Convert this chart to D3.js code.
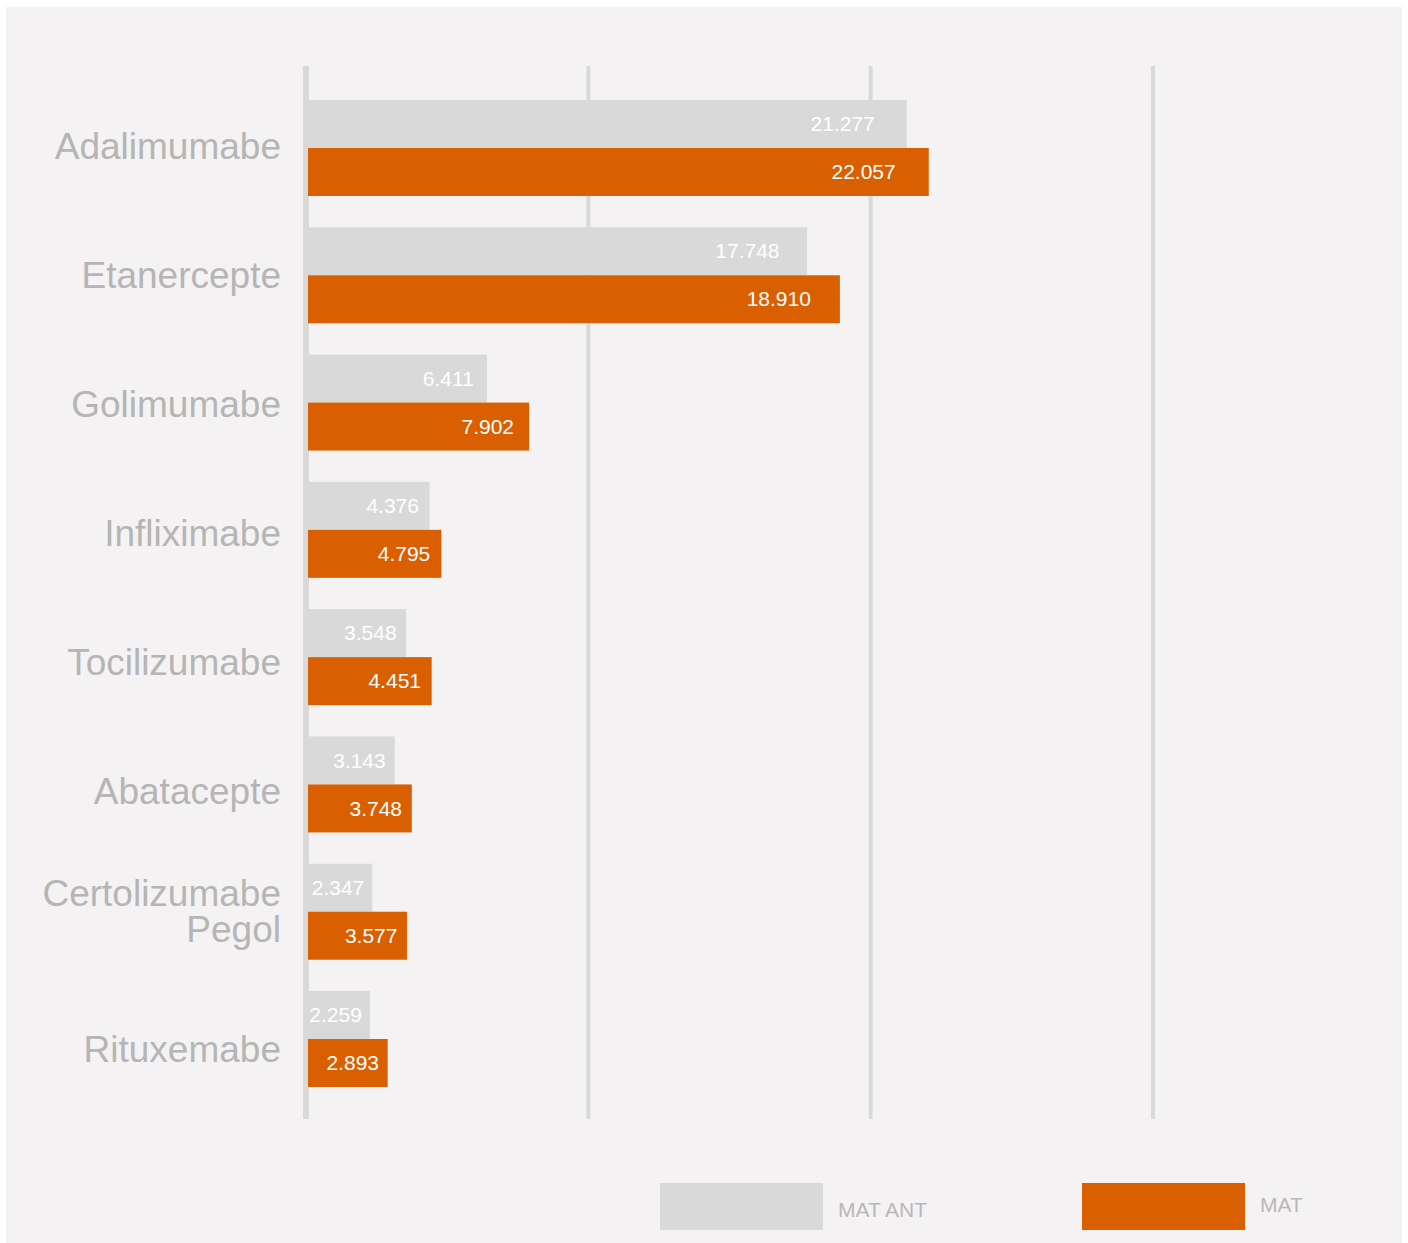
<!DOCTYPE html>
<html>
<head>
<meta charset="utf-8">
<script src="https://cdn.jsdelivr.net/npm/d3@7"></script>
<style>
  html, body { margin: 0; padding: 0; background: #ffffff; }
  svg { display: block; font-family: "Liberation Sans", Arial, sans-serif; }
</style>
</head>
<body>
<div class="chart"></div>
<script>
const WIDTH = 1408;
const HEIGHT = 1243;

// Data
const CATEGORIES = ["Adalimumabe", "Etanercepte", "Golimumabe", "Infliximabe",
  "Tocilizumabe", "Abatacepte", "Certolizumabe Pegol", "Rituxemabe"];
const CATEGORY_LINES = {"Certolizumabe Pegol": ["Certolizumabe", "Pegol"]};
const SERIES = ["MAT ANT", "MAT"];
const MAT_ANT = [21.277, 17.748, 6.411, 4.376, 3.548, 3.143, 2.347, 2.259];
const MAT = [22.057, 18.910, 7.902, 4.795, 4.451, 3.748, 3.577, 2.893];
const GRID_TICKS = [0, 10, 20, 30];

const COLORS = {"MAT ANT": "#d9d9d9", "MAT": "#d95f00"};
const fmt = v => v.toFixed(3);

const rows = CATEGORIES.map((c, i) => ({cat: c, values: [
  {key: "MAT ANT", value: MAT_ANT[i]},
  {key: "MAT", value: MAT[i]}
]}));

const svg = d3.select(".chart").append("svg")
  .attr("width", WIDTH).attr("height", HEIGHT);

// panel background
svg.append("rect")
  .attr("x", 6).attr("y", 7)
  .attr("width", 1396).attr("height", HEIGHT - 7)
  .attr("fill", "#f4f2f3");

// Scales
const x = d3.scaleLinear().domain([0, 30]).range([306, 1153]);
const y0 = d3.scaleBand().domain(CATEGORIES).range([100, 1087])
  .paddingInner(0.246).paddingOuter(0);
const y1 = d3.scaleBand().domain(SERIES).range([0, y0.bandwidth()]);
// category labels sit on a slightly wider band than the bars
const yLabel = d3.scaleBand().domain(CATEGORIES).range([82, 1113]);

// Gridlines
svg.append("g").attr("class", "grid")
  .selectAll("line").data(GRID_TICKS).enter().append("line")
  .attr("x1", d => x(d)).attr("x2", d => x(d))
  .attr("y1", 66).attr("y2", 1119)
  .attr("stroke", "#d9d9d9")
  .attr("stroke-width", d => d === 0 ? 6 : 4);

// Bars
const groups = svg.append("g").attr("class", "bars")
  .selectAll("g").data(rows).enter().append("g")
  .attr("transform", d => `translate(0, ${y0(d.cat)})`);

groups.selectAll("rect").data(d => d.values).enter().append("rect")
  .attr("x", x(0) + 2)
  .attr("y", d => y1(d.key))
  .attr("width", d => x(d.value) - x(0) - 2)
  .attr("height", y1.bandwidth())
  .attr("fill", d => COLORS[d.key]);

// Value labels inside bars
groups.selectAll("text").data(d => d.values).enter().append("text")
  .attr("x", d => {
    const len = x(d.value) - x(0);
    return x(d.value) - 5 - 0.045 * len;
  })
  .attr("y", d => y1(d.key) + y1.bandwidth() / 2)
  .attr("dy", "0.34em")
  .attr("text-anchor", "end")
  .attr("font-size", 21)
  .attr("fill", "#ffffff")
  .text(d => fmt(d.value));

// Category labels (wrapped ones as tspans)
const LINE_H = 36;
const catLabels = svg.append("g").attr("class", "cat-labels")
  .selectAll("text").data(CATEGORIES).enter().append("text")
  .attr("text-anchor", "end")
  .attr("font-size", 37)
  .attr("fill", "#b5b5b5")
  .attr("transform", d => `translate(281, ${yLabel(d) + yLabel.bandwidth() / 2})`);

catLabels.each(function(d) {
  const lines = CATEGORY_LINES[d] || [d];
  const t = d3.select(this);
  const shift = lines.length > 1 ? 4 : 13;
  lines.forEach((ln, i) => {
    t.append("tspan")
      .attr("x", 0)
      .attr("y", (i - (lines.length - 1) / 2) * LINE_H + shift)
      .text(ln);
  });
});

// Legend
const legend = svg.append("g").attr("class", "legend");
const LEGEND_X = {"MAT ANT": 660, "MAT": 1082};
const LEGEND_TEXT_Y = {"MAT ANT": 1217, "MAT": 1212};
const items = legend.selectAll("g").data(SERIES).enter().append("g");
items.append("rect")
  .attr("x", d => LEGEND_X[d]).attr("y", 1183)
  .attr("width", 163).attr("height", 47)
  .attr("fill", d => COLORS[d]);
items.append("text")
  .attr("x", d => LEGEND_X[d] + 178)
  .attr("y", d => LEGEND_TEXT_Y[d])
  .attr("font-size", 21)
  .attr("fill", "#b8b8b8")
  .text(d => d);
</script>
</body>
</html>
